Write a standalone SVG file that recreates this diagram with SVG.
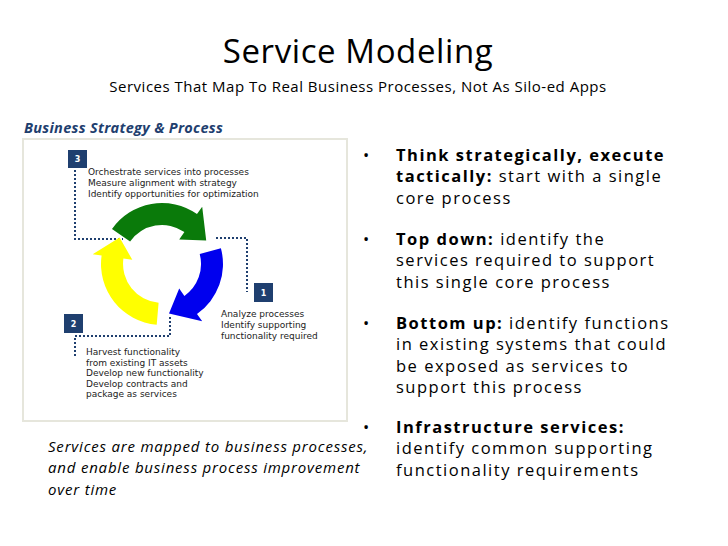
<svg xmlns="http://www.w3.org/2000/svg" width="728" height="546" viewBox="0 0 728 546">
<style>
.t{font-family:"Open Sans","Liberation Sans",sans-serif;fill:#000}
.s{font-family:"DejaVu Sans",Verdana,sans-serif;font-size:9px;fill:#222}
.b{font-family:"Open Sans","Liberation Sans",sans-serif;font-size:16.5px;letter-spacing:1.5px;fill:#000}
.nb rect{fill:#1f3f6f}
.nb text{font-family:"DejaVu Sans",sans-serif;font-size:8px;font-weight:bold;fill:#fff;text-anchor:middle}
.dot{fill:none;stroke:#1f3f6f;stroke-width:2;stroke-dasharray:2 2}
</style>
<rect width="728" height="546" fill="#fff"/>
<text class="t" x="358" y="63" font-size="33" letter-spacing="0.6" text-anchor="middle">Service Modeling</text>
<text class="t" x="358" y="92" font-size="15" letter-spacing="0.5" text-anchor="middle">Services That Map To Real Business Processes, Not As Silo-ed Apps</text>
<text class="t" x="24" y="133" font-size="14.5" font-weight="bold" font-style="italic" letter-spacing="0.3" style="fill:#1f3f6f">Business Strategy &amp; Process</text>
<rect x="23" y="139" width="324" height="282" fill="#fff" stroke="#e6e6dc" stroke-width="2"/>
<g id="connectors">
<path class="dot" d="M75 170 V239 H123"/>
<path class="dot" d="M216 238 H247 V292"/>
<path class="dot" d="M170 317 V336 H75 V356"/>
</g>
<g id="cycle">
<path d="M112.0 229.0 A61 61 0 0 1 197.0 214.0 L202.2 206.7 L206.2 240.6 L179.2 239.4 L184.4 232.1 A39 39 0 0 0 130.1 241.6 Z" fill="#0a7a0a"/>
<path d="M220.9 248.2 A61 61 0 0 1 197.0 314.0 L202.2 321.3 L169.0 313.5 L179.2 288.6 L184.4 295.9 A39 39 0 0 0 199.7 253.9 Z" fill="#0000ee"/>
<path d="M156.7 324.8 A61 61 0 0 1 101.6 255.5 L92.7 254.3 L119.6 237.5 L132.3 259.8 L123.4 258.6 A39 39 0 0 0 158.6 302.8 Z" fill="#ffff00"/>
</g>
<g id="n3" class="nb"><rect x="68" y="150" width="19" height="18"/><text x="77.5" y="162">3</text></g>
<g id="n1" class="nb"><rect x="254" y="283" width="19" height="19"/><text x="263.5" y="295.5">1</text></g>
<g id="n2" class="nb"><rect x="64" y="314" width="19" height="19"/><text x="73.5" y="326.5">2</text></g>
<g id="t3"><text class="s" x="88" y="175">Orchestrate services into processes</text><text class="s" x="88" y="186">Measure alignment with strategy</text><text class="s" x="88" y="197">Identify opportunities for optimization</text></g>
<g id="t1"><text class="s" x="221" y="317">Analyze processes</text><text class="s" x="221" y="328">Identify supporting</text><text class="s" x="221" y="339">functionality required</text></g>
<g id="t2"><text class="s" x="86" y="355">Harvest functionality</text><text class="s" x="86" y="366">from existing IT assets</text><text class="s" x="86" y="376">Develop new functionality</text><text class="s" x="86" y="387">Develop contracts and</text><text class="s" x="86" y="397">package as services</text></g>
<g class="t" font-size="15" font-style="italic" letter-spacing="0.8">
<text x="48" y="452">Services are mapped to business processes,</text>
<text x="48" y="473">and enable business process improvement</text>
<text x="48" y="495">over time</text>
</g>
<g id="bullets">
<text class="b" x="363" y="161">•</text>
<text class="b" x="396" y="161"><tspan font-weight="bold">Think strategically, execute</tspan></text>
<text class="b" x="396" y="182"><tspan font-weight="bold">tactically:</tspan> start with a single</text>
<text class="b" x="396" y="204">core process</text>
<text class="b" x="363" y="245">•</text>
<text class="b" x="396" y="245"><tspan font-weight="bold">Top down:</tspan> identify the</text>
<text class="b" x="396" y="266">services required to support</text>
<text class="b" x="396" y="288">this single core process</text>
<text class="b" x="363" y="329">•</text>
<text class="b" x="396" y="329"><tspan font-weight="bold">Bottom up:</tspan> identify functions</text>
<text class="b" x="396" y="350">in existing systems that could</text>
<text class="b" x="396" y="372">be exposed as services to</text>
<text class="b" x="396" y="393">support this process</text>
<text class="b" x="363" y="433">•</text>
<text class="b" x="396" y="433"><tspan font-weight="bold">Infrastructure services:</tspan></text>
<text class="b" x="396" y="454">identify common supporting</text>
<text class="b" x="396" y="476">functionality requirements</text>
</g>
</svg>
